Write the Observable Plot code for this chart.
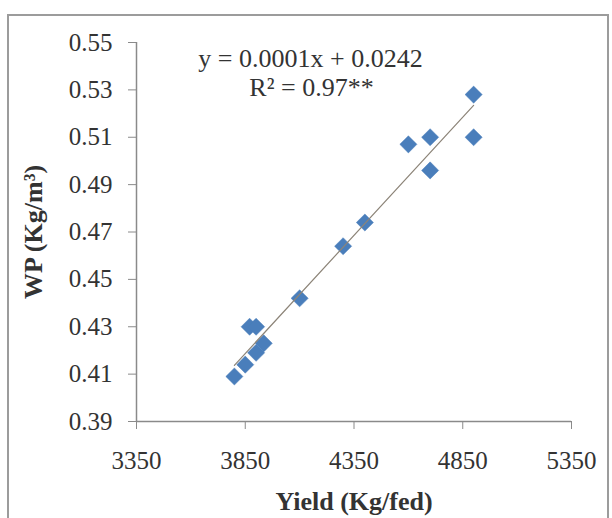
<!DOCTYPE html>
<html>
<head>
<meta charset="utf-8">
<script src="https://cdn.jsdelivr.net/npm/d3@7"></script>
<script src="https://cdn.jsdelivr.net/npm/@observablehq/plot@0.6"></script>
<style>
  html, body { margin: 0; padding: 0; background: #fff; }
  #wrap { position: relative; width: 612px; height: 518px; overflow: hidden; }
  #border { position: absolute; left: 7px; top: 14px; width: 598px; height: 520px; border: 2px solid #9c9c9c; pointer-events: none; }
</style>
</head>
<body>
<div id="wrap"><div id="border"></div></div>
<script>
// Data
const yieldKg = [3800, 3850, 3900, 3935, 3870, 3900, 4100, 4300, 4400, 4600, 4700, 4700, 4900, 4900];
const wp      = [0.409, 0.414, 0.419, 0.423, 0.430, 0.430, 0.442, 0.464, 0.474, 0.507, 0.510, 0.496, 0.528, 0.510];

const xTicks = [3350, 3850, 4350, 4850, 5350];
const yTicks = [0.39, 0.41, 0.43, 0.45, 0.47, 0.49, 0.51, 0.53, 0.55];

const xTitle = "Yield (Kg/fed)";
const yTitle = "WP (Kg/m³)";
const equation = "y = 0.0001x + 0.0242";
const rSquared = "R² = 0.97**";

const rows = yieldKg.map((x, i) => ({x, y: wp[i]}));

const axisGray = "#8a8a8a";
const textCol = "#333333";

const chart = Plot.plot({
  width: 612,
  height: 518,
  marginLeft: 136,
  marginRight: 41,
  marginTop: 42,
  marginBottom: 97,
  style: {fontFamily: "'Liberation Serif', 'Times New Roman', serif", background: "transparent"},
  x: {domain: [xTicks[0], xTicks[xTicks.length - 1]]},
  y: {domain: [yTicks[0], yTicks[yTicks.length - 1]]},
  marks: [
    Plot.axisX({ticks: xTicks, tickFormat: d3.format("d"), tickSize: 8, tickPadding: 22,
      fontSize: 25, stroke: axisGray, fill: textCol, label: null}),
    Plot.axisY({ticks: yTicks, tickFormat: d3.format(".2f"), tickSize: 8, tickPadding: 16,
      fontSize: 25, stroke: axisGray, fill: textCol, label: null}),
    Plot.ruleY([yTicks[0]], {stroke: axisGray, strokeWidth: 1.5}),
    Plot.ruleX([xTicks[0]], {stroke: axisGray, strokeWidth: 1.5}),
    Plot.dot(rows, {x: "x", y: "y", symbol: "diamond2", r: 7.7, fill: "#4a7ebb", stroke: "#4a7ebb", strokeWidth: 0.5}),
    Plot.linearRegressionY(rows, {x: "x", y: "y", ci: 0, stroke: "#8c8478", strokeWidth: 1.2}),
    Plot.text([equation], {frameAnchor: "top-left", dx: 174, dy: 16, fontSize: 26, fill: textCol,
      textAnchor: "middle", lineAnchor: "middle"}),
    Plot.text([rSquared], {frameAnchor: "top-left", dx: 175, dy: 45, fontSize: 26, fill: textCol,
      textAnchor: "middle", lineAnchor: "middle"}),
    Plot.text([xTitle], {frameAnchor: "bottom", dy: 80, fontSize: 26, fontWeight: "bold", fill: textCol,
      textAnchor: "middle", lineAnchor: "middle"}),
    Plot.text([yTitle], {frameAnchor: "left", dx: -103, rotate: -90, fontSize: 26, fontWeight: "bold", fill: textCol,
      textAnchor: "middle", lineAnchor: "middle"})
  ]
});

document.getElementById("wrap").insertBefore(chart, document.getElementById("border"));
</script>
</body>
</html>
